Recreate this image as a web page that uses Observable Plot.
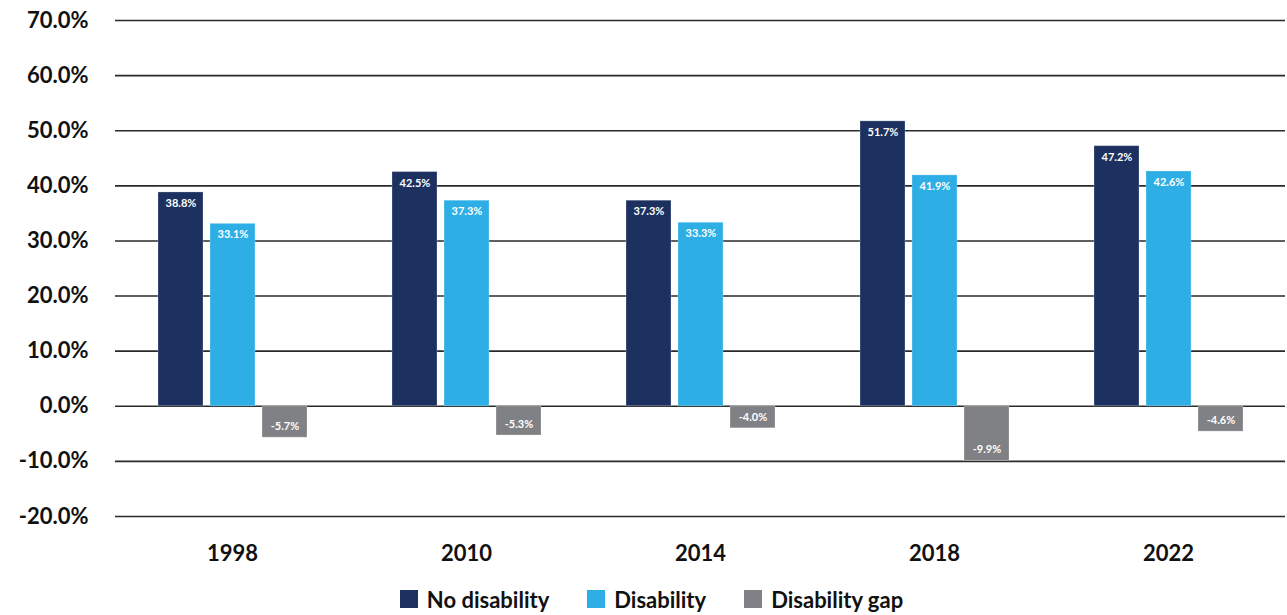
<!DOCTYPE html>
<html>
<head>
<meta charset="utf-8">
<script src="https://cdn.jsdelivr.net/npm/d3@7"></script>
<script src="https://cdn.jsdelivr.net/npm/@observablehq/plot@0.6"></script>
<style>
  body { margin: 0; background: #fff; font-family: Lato, "Open Sans", sans-serif; }
  #legend { display: flex; justify-content: center; align-items: center; height: 36px; margin-left: 16px; margin-top: 1px; }
  .item { display: flex; align-items: center; font-weight: 700; font-size: 22px; color: #111; margin: 0 19px; }
  .sw { width: 18px; height: 18px; margin-right: 9px; }
</style>
</head>
<body>
<div id="chart"></div>
<div id="legend"></div>
<script>
const years = ["1998", "2010", "2014", "2018", "2022"];
const series = ["No disability", "Disability", "Disability gap"];
const colors = ["#1c3160", "#2daee5", "#808184"];
const noDisability = [38.8, 42.5, 37.3, 51.7, 47.2];
const disability = [33.1, 37.3, 33.3, 41.9, 42.6];
const gap = [-5.7, -5.3, -4.0, -9.9, -4.6];
const yTicks = [-20, -10, 0, 10, 20, 30, 40, 50, 60, 70];

const values = [noDisability, disability, gap];
const data = [];
years.forEach((yr, i) => series.forEach((s, j) => data.push({year: yr, series: s, value: values[j][i]})));

const fmt = d => d.toFixed(1) + "%";

const plot = Plot.plot({
  width: 1287,
  height: 580,
  marginTop: 20,
  marginBottom: 64,
  marginLeft: 113,
  marginRight: 0,
  style: {fontFamily: "Lato, 'Open Sans', sans-serif", background: "#fff"},
  fx: {domain: years, padding: 0, label: null},
  x: {domain: series, paddingInner: 0.135, paddingOuter: 0.806, axis: null},
  y: {domain: [-20, 70], label: null},
  color: {domain: series, range: colors},
  marks: [
    Plot.ruleY(yTicks, {stroke: "#2a2a2a", strokeWidth: 1.6}),
    Plot.barY(data, {fx: "year", x: "series", y: "value", fill: "series", stroke: "#ffffff", strokeOpacity: 0.25, strokeWidth: 1}),
    Plot.text(data.filter(d => d.value >= 0), {fx: "year", x: "series", y: "value", text: d => fmt(d.value), fill: "white", fontWeight: 700, fontSize: 11, dy: 11, lineAnchor: "middle"}),
    Plot.text(data.filter(d => d.value < 0), {fx: "year", x: "series", y: "value", text: d => fmt(d.value), fill: "white", fontWeight: 700, fontSize: 11, dy: -11, lineAnchor: "middle"}),
    Plot.axisY({ticks: yTicks, tickFormat: fmt, tickSize: 0, tickPadding: 27, fontSize: 22, fontWeight: 700, fill: "#111", label: null}),
    Plot.axisFx({anchor: "bottom", tickSize: 0, tickPadding: 29, fontSize: 22, fontWeight: 700, fill: "#111", label: null})
  ]
});
document.getElementById("chart").appendChild(plot);

const legend = document.getElementById("legend");
series.forEach((s, j) => {
  const it = document.createElement("div");
  it.className = "item";
  it.innerHTML = `<div class="sw" style="background:${colors[j]}"></div><span>${s}</span>`;
  legend.appendChild(it);
});
</script>
</body>
</html>
